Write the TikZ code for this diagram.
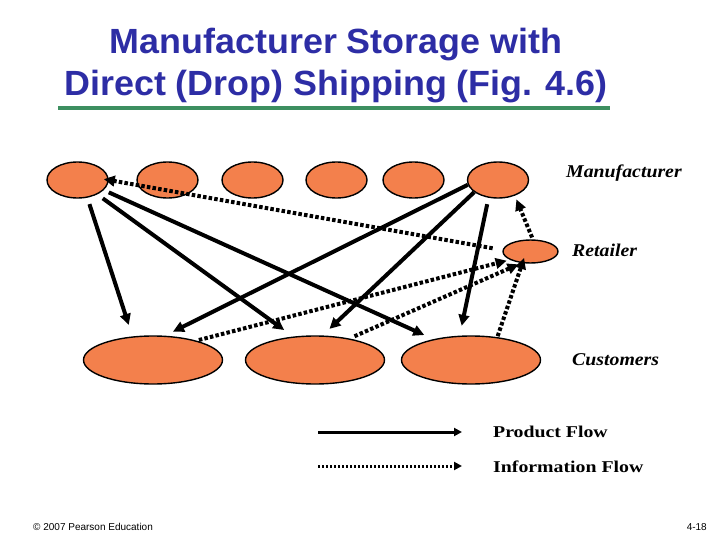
\documentclass[tikz,border=0pt]{standalone}
\usepackage{fontspec}
\setmainfont{Liberation Serif}
\setsansfont{Liberation Sans}
\usetikzlibrary{shapes.geometric,arrows.meta}
\definecolor{titleblue}{RGB}{45,45,165}
\definecolor{rulegreen}{RGB}{61,143,96}
\definecolor{orangefill}{RGB}{243,128,76}
\tikzset{
  site/.style={ellipse,draw=black,line width=1.4pt,fill=orangefill,inner sep=0pt},
  mfr/.style={site,minimum width=61pt,minimum height=36pt},
  cust/.style={site,minimum width=139pt,minimum height=48pt},
  prod/.style={line width=4pt,-{Triangle[length=11pt,width=10.5pt]}},
  info/.style={line width=4pt,dash pattern=on 3.5pt off 2.2pt,-{Triangle[length=11pt,width=10.5pt]}},
  lbl/.style={anchor=base west,inner sep=0pt,font=\fontsize{18}{20}\selectfont\bfseries\itshape},
  leg/.style={anchor=base west,inner sep=0pt,font=\fontsize{16.5}{18}\selectfont\bfseries},
  ttl/.style={anchor=base,inner sep=0pt,text=titleblue,font=\fontsize{35}{40}\selectfont\sffamily\bfseries},
  foot/.style={inner sep=0pt,font=\fontsize{10}{12}\selectfont\sffamily}
}
\begin{document}
\begin{tikzpicture}[x=1pt,y=-1pt]
\useasboundingbox (0,0) rectangle (720,540);
% title
\node[ttl] (t1) at (336,54) {\scalebox{1.025}[1]{Manufacturer Storage with}};
\node[ttl] (t2) at (336,96) {\scalebox{1.025}[1]{Direct (Drop) Shipping (Fig. 4.6)}};
\coordinate (gl) at (58,108.5);
\coordinate (gr) at (610,108.5);
\draw[rulegreen,line width=4pt] (gl) -- (gr);
% manufacturers
\node[mfr] (m1) at (77.5,180) {};
\node[mfr] (m2) at (167.5,180) {};
\node[mfr] (m3) at (252.5,180) {};
\node[mfr] (m4) at (336.5,180) {};
\node[mfr] (m5) at (413.5,180) {};
\node[mfr] (m6) at (498,180) {};
% retailer
\node[site,minimum width=55pt,minimum height=23pt] (r) at (530.5,251.5) {};
% customers
\node[cust] (c1) at (153,360) {};
\node[cust] (c2) at (315,360) {};
\node[cust] (c3) at (471,360) {};
% labels
\node[lbl] (lm) at (566,178) {\scalebox{1.1}[1]{Manufacturer}};
\node[lbl] (lr) at (572,256.5) {\scalebox{1.1}[1]{Retailer}};
\node[lbl] (lc) at (572,365) {\scalebox{1.1}[1]{Customers}};
% product flow
\draw[prod,shorten <=6.7pt,shorten >=12pt] (m1.-61.5) -- (c1.131.2);
\draw[prod,shorten <=6.7pt,shorten >=11pt] (m1.-36.3) -- (c2.133.1);
\draw[prod,shorten <=5.5pt,shorten >=10pt] (m1.-21.5) -- (c3.151.5);
\draw[prod,shorten >=9pt] (m6.189.5) -- (c1.64.9);
\draw[prod,shorten >=9.5pt] (m6.207.6) -- (c2.73.1);
\draw[prod,shorten <=6.5pt,shorten >=10pt] (m6.242.4) -- (c3.115.9);
% information flow
\draw[info,shorten <=10pt,shorten >=-5pt] (r.177.7) -- (m1.east);
\draw[info,shorten <=2.4pt,shorten >=3.4pt] (c1.24) -- (r.202.9);
\draw[info,shorten <=5.5pt,shorten >=3.2pt] (c2.32.3) -- (r.232.1);
\draw[info,shorten <=1pt,shorten >=-5.5pt] (c3.41.5) -- (r.235.3);
\draw[info,shorten <=2pt,shorten >=4pt] (r.79.5) -- (m6.-43.5);
% legend
\coordinate (pa) at (318,432);
\coordinate (pb) at (462,432);
\coordinate (ia) at (318,466);
\coordinate (ib) at (462,466);
\draw[line width=3pt,-{Triangle[length=8pt,width=8pt]}] (pa) -- (pb);
\draw[line width=3pt,dash pattern=on 2pt off 2pt,-{Triangle[length=8pt,width=8pt]}] (ia) -- (ib);
\node[leg] (lp) at (493,437) {\scalebox{1.2}[1]{Product Flow}};
\node[leg] (li) at (493,472) {\scalebox{1.2}[1]{Information Flow}};
% footer
\node[foot,anchor=base west] (cp) at (33,530) {© 2007 Pearson Education};
\node[foot,anchor=base east] (pg) at (707,530) {4-18};
\end{tikzpicture}
\end{document}
